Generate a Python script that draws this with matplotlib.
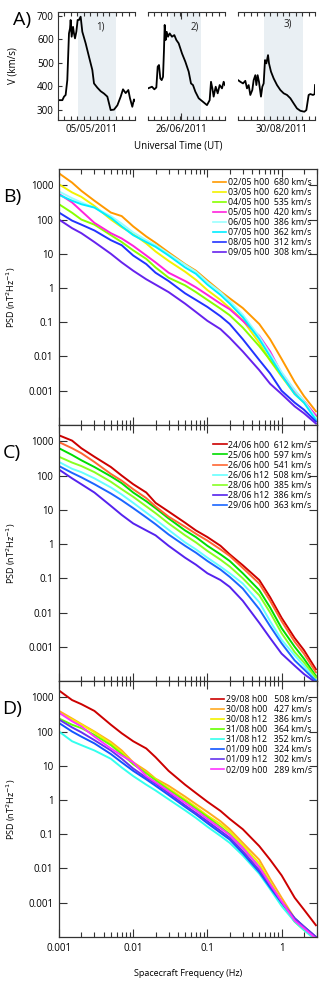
import numpy as np
import matplotlib.pyplot as plt
from matplotlib.ticker import FixedLocator, LogLocator, NullLocator, NullFormatter, FuncFormatter

plt.rcParams['font.family'] = ['Open Sans', 'DejaVu Sans']

# ---------------- panel A : solar wind speed (time in days, 12-day windows)
t1 = [0, 0.68, 0.94, 1.19, 1.45, 1.71, 1.87, 1.97, 2.13, 2.34, 2.49, 2.65, 2.86, 3.06, 3.27, 3.53,
      3.79, 4.31, 4.83, 5.35, 5.61, 6.13, 6.65, 7.17, 7.69, 8.21, 8.73, 9.25, 9.77, 10.13, 10.55,
      10.96, 11.22, 11.58, 11.84, 12.0]
v1 = [342, 342, 357, 364, 427, 625, 646, 682, 611, 653, 625, 604, 632, 682, 682, 696,
      632, 583, 526, 470, 413, 395, 380, 370, 357, 300, 302, 320, 357, 388, 372,
      385, 350, 314, 345, 340]
t2 = [0, 0.36, 0.62, 0.99, 1.30, 1.51, 1.71, 1.92, 2.13, 2.34, 2.49, 2.60, 2.75, 2.91, 3.12, 3.38,
      3.74, 4.10, 4.42, 4.78, 5.30, 5.82, 6.34, 6.70, 7.01, 7.38, 7.90, 8.57, 9.19, 9.61, 9.82,
      10.03, 10.23, 10.55, 10.86, 11.17, 11.53, 11.79, 12.0]
v2 = [392, 396, 399, 388, 396, 484, 491, 434, 427, 441, 554, 661, 597, 632, 611, 625,
      611, 618, 597, 583, 540, 505, 463, 413, 406, 378, 350, 335, 321, 342, 420,
      392, 357, 399, 371, 406, 392, 420, 406]
t3 = [0, 0.36, 0.78, 1.14, 1.40, 1.66, 1.92, 2.23, 2.44, 2.70, 2.86, 3.06, 3.27, 3.58, 3.79, 4.0,
      4.21, 4.42, 4.68, 4.83, 5.14, 5.56, 6.08, 6.6, 7.12, 7.64, 8.16, 8.68, 9.19, 9.71, 10.34,
      10.65, 11.01, 11.27, 11.69, 11.95, 12.0]
v3 = [427, 420, 413, 424, 392, 406, 364, 385, 427, 448, 406, 448, 420, 357, 399, 413,
      512, 498, 533, 498, 463, 434, 406, 385, 371, 364, 350, 328, 307, 297, 293,
      300, 364, 368, 364, 368, 406]
dates = ['05/05/2011', '26/06/2011', '30/08/2011']
date_pos = [5.3, 5.2, 6.75]
shade = [(3.12, 9.09), (3.48, 8.31), (4.10, 10.13)]
tags = ['1)', '2)', '3)']
tag_pos = [(5.87, 640), (6.6, 642), (7.12, 653)]

# ---------------- PSD spectra
freq = [0.001, 0.0015, 0.002, 0.003, 0.005, 0.007, 0.01, 0.015, 0.02, 0.03, 0.05,
        0.07, 0.1, 0.15, 0.2, 0.3, 0.5, 0.7, 1.0, 1.5, 2.0, 2.9]

b_lab = ['02/05 h00', '03/05 h00', '04/05 h00', '05/05 h00', '06/05 h00', '07/05 h00', '08/05 h00', '09/05 h00']
b_vel = [680, 620, 535, 420, 386, 362, 312, 308]
b_col = ['#ff9900', '#f2f200', '#88ff00', '#ff22dd', '#99ffff', '#00eeff', '#2233ff', '#6622ee']
b_psd = [
    [2240, 1200, 690, 355, 160, 126, 63, 32, 21, 11, 5, 3.2, 1.66, 0.8, 0.5, 0.26, 0.089, 0.032, 0.0085, 0.0018, 0.0007, 0.00025],
    [1070, 620, 460, 250, 100, 60, 38, 20, 11.7, 6.2, 3.0, 1.74, 0.87, 0.45, 0.26, 0.115, 0.025, 0.0076, 0.0026, 0.00081, 0.00045, 0.00018],
    [280, 158, 100, 71, 35, 22, 12.6, 7.1, 4, 2, 1.2, 0.76, 0.45, 0.25, 0.16, 0.07, 0.02, 0.0079, 0.0028, 0.001, 0.0005, 0.00018],
    [560, 316, 178, 80, 40, 28, 17, 8.9, 5.6, 2.8, 1.6, 1.05, 0.63, 0.35, 0.24, 0.11, 0.04, 0.014, 0.0032, 0.001, 0.0005, 0.00019],
    [660, 420, 316, 224, 126, 76, 42, 25, 18, 10, 4.8, 3, 1.5, 0.76, 0.42, 0.166, 0.038, 0.012, 0.0035, 0.00105, 0.0005, 0.00016],
    [525, 355, 280, 224, 112, 63, 35, 22, 16, 8.9, 4, 2.6, 1.26, 0.63, 0.35, 0.14, 0.032, 0.01, 0.0028, 0.0008, 0.00045, 0.00014],
    [160, 93, 71, 48, 25, 17.8, 8.9, 5, 2.8, 1.6, 0.7, 0.45, 0.28, 0.15, 0.089, 0.032, 0.0079, 0.0032, 0.001, 0.00045, 0.00028, 0.000126],
    [100, 56, 40, 22, 10, 5.6, 3.2, 1.8, 1.26, 0.76, 0.35, 0.2, 0.11, 0.063, 0.035, 0.014, 0.004, 0.0016, 0.0008, 0.00035, 0.00022, 0.00011],
]

c_lab = ['24/06 h00', '25/06 h00', '26/06 h00', '26/06 h12', '28/06 h00', '28/06 h12', '29/06 h00']
c_vel = [612, 597, 541, 508, 385, 386, 363]
c_col = ['#cc0000', '#00dd00', '#ff6633', '#66ffff', '#88ff22', '#5522ee', '#1a66ff']
c_psd = [
    [1500, 1050, 630, 355, 178, 100, 56, 32, 16, 8.9, 4.2, 2.5, 1.6, 0.89, 0.5, 0.24, 0.089, 0.028, 0.007, 0.0018, 0.0008, 0.00022],
    [630, 400, 280, 178, 95, 60, 32, 17.8, 11.2, 5.6, 2.5, 1.6, 0.89, 0.5, 0.32, 0.14, 0.045, 0.014, 0.0035, 0.001, 0.00045, 0.00014],
    [950, 630, 450, 250, 112, 71, 40, 22, 12.6, 6.3, 3.2, 2.0, 1.26, 0.7, 0.45, 0.2, 0.07, 0.022, 0.0056, 0.0014, 0.00063, 0.00018],
    [250, 158, 126, 83, 45, 28, 16, 8.3, 5.2, 2.6, 1.12, 0.7, 0.4, 0.22, 0.14, 0.07, 0.02, 0.0056, 0.0016, 0.00056, 0.00028, 0.00011],
    [355, 240, 190, 126, 66, 40, 24, 12.6, 8, 4, 1.8, 1.12, 0.63, 0.35, 0.22, 0.1, 0.032, 0.01, 0.0025, 0.0007, 0.00035, 0.000126],
    [150, 83, 56, 32, 13, 7.1, 4, 2.5, 1.8, 0.89, 0.4, 0.25, 0.14, 0.089, 0.056, 0.022, 0.005, 0.0018, 0.00063, 0.00028, 0.00016, 0.00009],
    [190, 120, 89, 56, 30, 19, 11.2, 6, 3.8, 1.9, 0.89, 0.56, 0.32, 0.18, 0.11, 0.05, 0.0126, 0.004, 0.00126, 0.0004, 0.00022, 0.0001],
]

d_lab = ['29/08 h00', '30/08 h00', '30/08 h12', '31/08 h00', '31/08 h12', '01/09 h00', '01/09 h12', '02/09 h00']
d_vel = [508, 427, 386, 364, 352, 324, 302, 289]
d_col = ['#cc0000', '#ffaa22', '#f2f200', '#66ff00', '#33ffee', '#1155ff', '#6633ee', '#ff33ff']
d_psd = [
    [1580, 830, 630, 400, 158, 89, 52, 32, 17.8, 7.1, 2.8, 1.6, 0.89, 0.48, 0.28, 0.14, 0.045, 0.018, 0.0063, 0.0014, 0.00063, 0.00022],
    [400, 240, 166, 100, 50, 28, 12.6, 7.1, 4.2, 2.6, 1.26, 0.76, 0.45, 0.24, 0.14, 0.056, 0.018, 0.005, 0.0014, 0.00035, 0.0002, 0.0001],
    [355, 224, 158, 95, 45, 25, 11.2, 6.3, 4, 2.2, 1.05, 0.63, 0.35, 0.2, 0.12, 0.048, 0.014, 0.004, 0.0011, 0.0003, 0.00018, 0.00009],
    [240, 158, 126, 80, 40, 22, 11.2, 6, 3.8, 2.0, 0.95, 0.56, 0.32, 0.166, 0.1, 0.04, 0.011, 0.0035, 0.001, 0.00028, 0.00016, 0.00009],
    [100, 52, 40, 28, 16, 8.9, 5, 2.8, 1.9, 1.05, 0.5, 0.3, 0.166, 0.089, 0.056, 0.024, 0.007, 0.0025, 0.0008, 0.00028, 0.00016, 0.00008],
    [178, 100, 71, 45, 22, 12.6, 7.1, 4, 2.6, 1.4, 0.63, 0.38, 0.21, 0.11, 0.07, 0.028, 0.0079, 0.0028, 0.001, 0.00035, 0.0002, 0.0001],
    [224, 132, 95, 56, 28, 16, 8.3, 4.5, 3, 1.6, 0.7, 0.42, 0.24, 0.126, 0.079, 0.032, 0.0089, 0.0032, 0.00105, 0.00035, 0.0002, 0.0001],
    [355, 200, 141, 71, 32, 20, 12.6, 5, 3.3, 1.8, 0.83, 0.5, 0.28, 0.15, 0.095, 0.04, 0.011, 0.0035, 0.0011, 0.0003, 0.00018, 0.00009],
]

psd_ticks = [1000, 100, 10, 1, 0.1, 0.01, 0.001]
axcol = '#333333'

fig = plt.figure(figsize=(3.27, 9.81), dpi=100)

# ---------------- panel A
a_lefts = [58 / 327, 148 / 327, 238 / 327]
series = [(t1, v1), (t2, v2), (t3, v3)]
for i, (tt, vv) in enumerate(series):
    ax = fig.add_axes([a_lefts[i], 0.8777, 77 / 327, 0.1101])
    ax.axvspan(shade[i][0], shade[i][1], color='#e9eff3', lw=0, zorder=0)
    ax.plot(tt, vv, color='black', lw=1.3)
    ax.set_xlim(0, 12)
    ax.set_ylim(258, 716)
    ax.set_xticks([date_pos[i]])
    ax.set_xticklabels([dates[i]], fontsize=7)
    ax.xaxis.set_minor_locator(FixedLocator(np.arange(0, 12.01, 1)))
    ax.tick_params(axis='x', which='both', direction='in', top=True, bottom=True,
                   color=axcol, width=0.8, pad=3)
    ax.tick_params(axis='x', which='major', length=5 if i == 1 else 0)
    ax.tick_params(axis='x', which='minor', length=3)
    ax.text(tag_pos[i][0], tag_pos[i][1], tags[i], fontsize=7, color='#222222')
    for s in ['top', 'bottom']:
        ax.spines[s].set_color(axcol)
        ax.spines[s].set_linewidth(0.8)
    ax.spines['right'].set_visible(False)
    if i == 0:
        ax.set_yticks([300, 400, 500, 600, 700])
        ax.tick_params(axis='y', direction='in', length=3, labelsize=7, color=axcol, pad=3)
        ax.spines['left'].set_color(axcol)
        ax.set_ylabel('V (km/s)', fontsize=7)
        ax.yaxis.set_label_coords(-0.513, 0.5)
    else:
        ax.spines['left'].set_visible(False)
        ax.set_yticks([])

fig.text(178 / 327, 1 - 146 / 981, 'Universal Time (UT)', fontsize=7, ha='center', va='center')
fig.text(22 / 327, 1 - 20 / 981, 'A)', fontsize=14, ha='center', va='center')

# ---------------- panels B, C, D
panels = [
    (b_lab, b_vel, b_col, b_psd, 'B)', 0.5668, '  ', 0.985),
    (c_lab, c_vel, c_col, c_psd, 'C)', 0.3058, '  ', 0.96),
    (d_lab, d_vel, d_col, d_psd, 'D)', 0.0449, '   ', 0.965),
]
for k, (labs, vels, cols, psds, tag, bottom, gap, ly) in enumerate(panels):
    ax = fig.add_axes([59 / 327, bottom, 258 / 327, 256 / 981])
    for lab, vel, col, p in zip(labs, vels, cols, psds):
        ax.plot(freq, p, color=col, lw=1.4, label='%s%s%d km/s' % (lab, gap, vel))
    ax.set_xscale('log')
    ax.set_yscale('log')
    ax.set_xlim(0.001, 3.0)
    ax.set_ylim(1e-4, 3e3)
    ax.yaxis.set_major_locator(FixedLocator(psd_ticks))
    ax.yaxis.set_major_formatter(FuncFormatter(lambda v, p: '%g' % v))
    ax.yaxis.set_minor_locator(NullLocator())
    ax.xaxis.set_major_locator(LogLocator(base=10))
    ax.xaxis.set_minor_locator(LogLocator(base=10, subs=np.arange(2, 10)))
    ax.xaxis.set_minor_formatter(NullFormatter())
    ax.tick_params(which='both', direction='in', top=True, right=True, color=axcol, width=0.8)
    ax.tick_params(which='major', length=6, labelsize=7, pad=4)
    ax.tick_params(which='minor', length=3.5)
    for s in ax.spines.values():
        s.set_color(axcol)
        s.set_linewidth(0.9)
    if k < 2:
        ax.set_xticklabels([])
    else:
        ax.xaxis.set_major_formatter(FuncFormatter(lambda v, p: '%g' % v))
        ax.set_xlabel('Spacecraft Frequency (Hz)', fontsize=6.5)
        ax.xaxis.set_label_coords(0.5, -0.125)
    ax.set_ylabel('PSD (nT$^2$Hz$^{-1}$)', fontsize=6.5)
    ax.yaxis.set_label_coords(-0.159, 0.5)
    leg = ax.legend(loc='upper right', bbox_to_anchor=(1.0, ly), frameon=False, fontsize=6.3,
                    handlelength=1.5, handletextpad=0.2, labelspacing=0.12, borderaxespad=0.2)
    for h in leg.get_lines():
        h.set_linewidth(1.2)
    fig.text(12 / 327, bottom + 228 / 981, tag, fontsize=14, ha='center', va='center')

fig.savefig('out.png', dpi=100)
